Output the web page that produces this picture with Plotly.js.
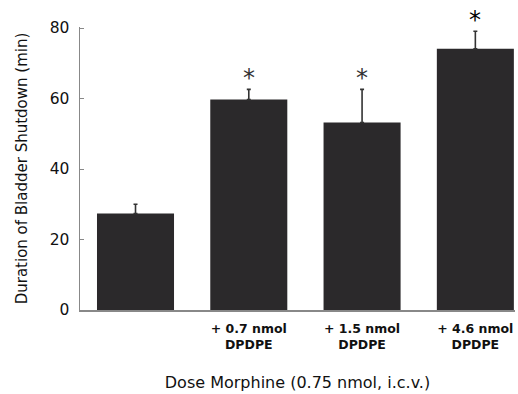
<!DOCTYPE html>
<html>
<head>
<meta charset="utf-8">
<script src="https://cdn.plot.ly/plotly-3.0.1.min.js"></script>
<style>html,body{margin:0;padding:0;background:#fff;}#chart{width:518px;height:394px;}</style>
</head>
<body>
<div id="chart"></div>
<script>
const categories = ["", "+ 0.7 nmol<br>DPDPE", "+ 1.5 nmol<br>DPDPE", "+ 4.6 nmol<br>DPDPE"];
const positions = [0, 1, 2, 3];
const durations = [27.4, 59.7, 53.2, 74.1];
const errorPlus = [2.6, 2.9, 9.4, 5.0];
const significant = [false, true, true, true];
const yTicks = [0, 20, 40, 60, 80];

const font = "DejaVu Sans, Verdana, sans-serif";

const bars = {
  type: "bar",
  x: positions,
  y: durations,
  width: 0.68,
  marker: {color: "#2b292b", line: {width: 0}},
  error_y: {type: "data", symmetric: false, array: errorPlus, arrayminus: durations.map(() => 0),
            color: "#333", thickness: 1.6, width: 2},
  hoverinfo: "none"
};

// asterisks placed just above the error-bar tops
const annotations = positions
  .filter(i => significant[i])
  .map(i => ({
    x: positions[i], y: durations[i] + errorPlus[i], xref: "x", yref: "y",
    text: "*", showarrow: false,
    xanchor: "center", yanchor: "middle", yshift: 11,
    font: {family: font, size: 24, color: i === 3 ? "#000" : "#333"}
  }));

const layout = {
  width: 518, height: 394,
  margin: {l: 80, r: 3, t: 27, b: 84},
  paper_bgcolor: "#fff", plot_bgcolor: "#fff",
  showlegend: false,
  font: {family: font, color: "#111"},
  annotations: annotations,
  xaxis: {
    range: [-0.49, 3.35],
    tickvals: positions, ticktext: categories,
    showline: true, linecolor: "#888", linewidth: 1.5,
    ticks: "", showgrid: false, zeroline: false,
    ticklabelstandoff: 6,
    tickfont: {family: font, size: 12.5, color: "#111", weight: "bold"},
    title: {text: "Dose Morphine (0.75 nmol, i.c.v.)", font: {family: font, size: 16, color: "#111"}, standoff: 26}
  },
  yaxis: {
    range: [0, 80.3],
    tickvals: yTicks,
    showline: true, linecolor: "#888", linewidth: 1.5,
    ticks: "inside", ticklen: 4, tickcolor: "#888",
    showgrid: false, zeroline: false,
    tickfont: {family: font, size: 15.5, color: "#111"},
    ticklabelstandoff: 6,
    title: {text: "Duration of Bladder Shutdown (min)", font: {family: font, size: 15, color: "#111"}, standoff: 18}
  }
};

Plotly.newPlot("chart", [bars], layout, {displayModeBar: false, staticPlot: true});
</script>
</body>
</html>
